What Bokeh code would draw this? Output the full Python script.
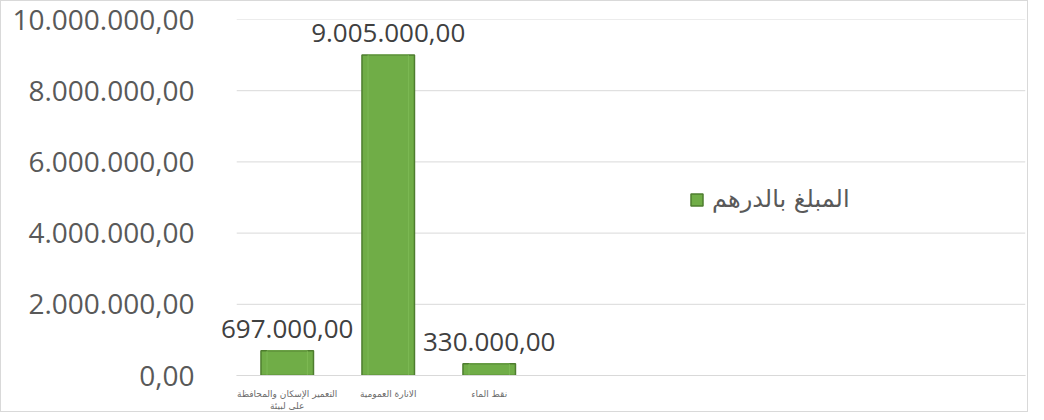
from bokeh.plotting import figure
from bokeh.models import FixedTicker, Label, Legend, LegendItem, Range1d, ColumnDataSource
from bokeh.embed import file_html
from bokeh.resources import INLINE

categories = ["التعمير الإسكان والمحافظة\nعلى لبيئة", "الانارة العمومية", "نقط الماء"]
values = [697000, 9005000, 330000]
value_labels = ["697.000,00", "9.005.000,00", "330.000,00"]
y_ticks = [0, 2000000, 4000000, 6000000, 8000000, 10000000]
y_tick_labels = ["0,00", "2.000.000,00", "4.000.000,00", "6.000.000,00", "8.000.000,00", "10.000.000,00"]
series_name = "المبلغ بالدرهم"

X_START, X_END = -0.23, 7.81   # extra room on the left so the first value label is not clipped

xpos = [i + 0.5 for i in range(len(categories))]
src = ColumnDataSource(dict(x=xpos, top=values, lab=value_labels))
grid_src = ColumnDataSource(dict(y=y_ticks, x0=[0] * len(y_ticks), x1=[X_END] * len(y_ticks)))

p = figure(width=1028, height=412, output_backend="svg", toolbar_location=None,
           x_range=Range1d(X_START, X_END), y_range=Range1d(0, 10000000),
           min_border_left=212, min_border_right=4, min_border_top=18, min_border_bottom=36)
p.outline_line_color = None
p.background_fill_color = "white"
p.styles = {"border": "1px solid #d9d9d9", "box-sizing": "border-box"}

p.segment(x0="x0", x1="x1", y0="y", y1="y", source=grid_src, line_color="#d9d9d9", line_width=1)

r = p.vbar(x="x", top="top", width=0.52, source=src, fill_color="#70ad47",
           line_color="#4e7d2f", line_width=1.5)
# subtle inner bevel
p.vbar(x="x", top="top", bottom=0, width=0.40, source=src, fill_color=None,
       line_color="#86c25e", line_width=1, line_alpha=0.6)

for xv, yv, lab in zip(xpos, values, value_labels):
    p.add_layout(Label(x=xv, y=yv, text=lab, text_align="center", text_baseline="bottom",
                       y_offset=13, text_font_size="26px", text_color="#404040",
                       text_font="Open Sans"))

p.xaxis.bounds = (0, X_END)
p.xaxis.ticker = FixedTicker(ticks=xpos)
p.xaxis.major_label_overrides = {x: c for x, c in zip(xpos, categories)}
p.xaxis.major_label_text_font_size = "9px"
p.xaxis.major_label_text_color = "#6b6b6b"
p.xaxis.major_label_text_font = "DejaVu Sans"
p.xaxis.axis_line_color = "#d9d9d9"
p.xaxis.major_tick_line_color = None
p.xaxis.minor_tick_line_color = None
p.xaxis.major_label_standoff = 7

p.yaxis.ticker = FixedTicker(ticks=y_ticks)
p.yaxis.major_label_overrides = {t: l for t, l in zip(y_ticks, y_tick_labels)}
p.yaxis.major_label_text_font_size = "28px"
p.yaxis.major_label_text_color = "#595959"
p.yaxis.major_label_text_font = "Open Sans"
p.yaxis.axis_line_color = None
p.yaxis.major_tick_line_color = None
p.yaxis.minor_tick_line_color = None
p.yaxis.major_label_standoff = 13

p.xgrid.grid_line_color = None
p.ygrid.grid_line_color = None

legend = Legend(items=[LegendItem(label=series_name, renderers=[r])],
                location=(476, 162), label_text_font_size="24px",
                label_text_color="#595959", label_text_font="DejaVu Sans",
                border_line_color=None, background_fill_alpha=0,
                glyph_width=15, glyph_height=15, label_standoff=8)
p.add_layout(legend, "center")

open("out.html", "w").write(file_html(p, INLINE))
